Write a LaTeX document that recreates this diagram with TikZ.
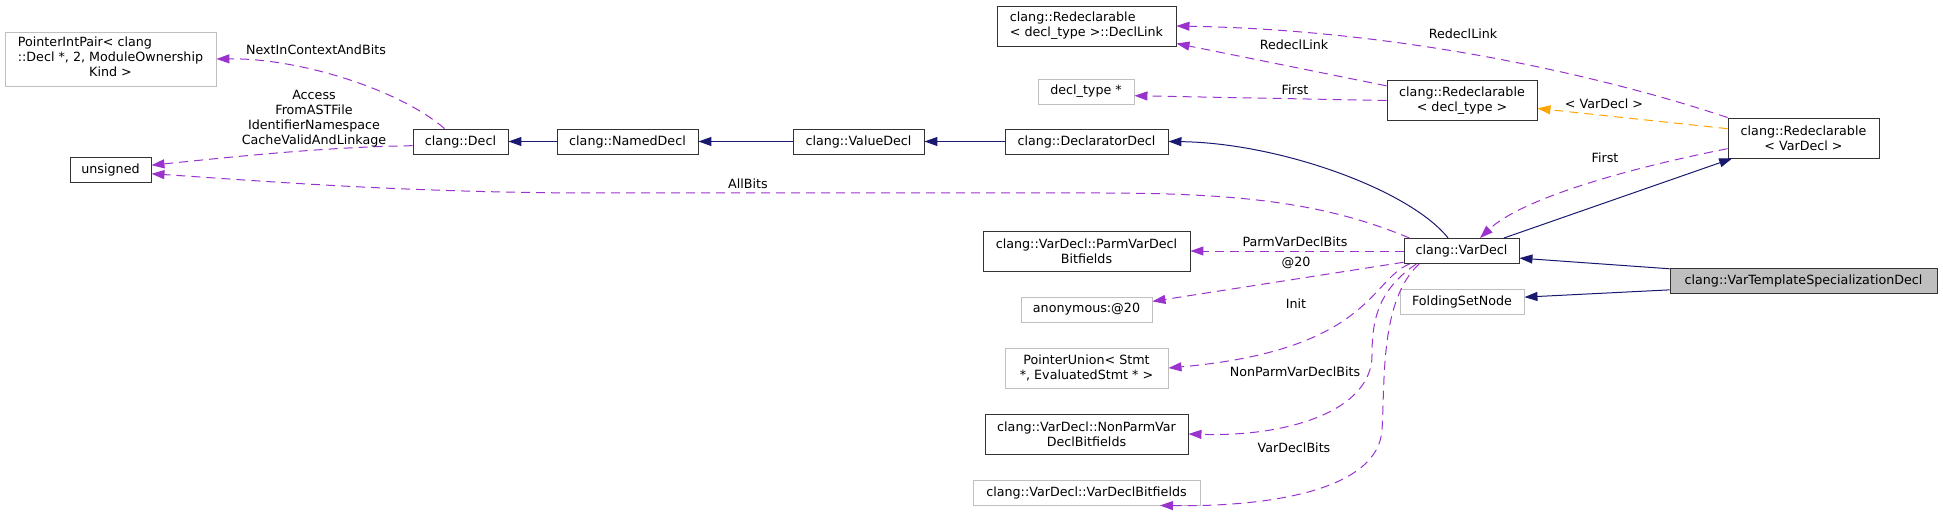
\documentclass[tikz,border=0pt]{standalone}
\usepackage{fontspec}
\setmainfont{DejaVu Sans}
\usepackage{tikz}
\usetikzlibrary{arrows.meta}
\definecolor{inhblue}{HTML}{191970}
\definecolor{memberpurple}{HTML}{9A32CD}
\definecolor{tmplorange}{HTML}{FFA500}
\definecolor{boxgray}{HTML}{BFBFBF}

\begin{document}
\begin{tikzpicture}[x=1pt, y=-1pt, font=\fontsize{12.7}{15}\selectfont,
  >={Triangle[length=13pt, width=9pt]},
  cls/.style={draw=black!80, line width=0.9pt, fill=white, minimum height=25pt,
              inner sep=0pt, align=center},
  ext/.style={cls, draw=boxgray},
  cur/.style={cls, fill=boxgray},
  inherit/.style={->, inhblue, line width=1pt},
  member/.style={->, memberpurple, line width=1pt, dash pattern=on 9pt off 6pt},
  tmpl/.style={->, tmplorange, line width=1pt, dash pattern=on 9pt off 6pt},
  lbl/.style={inner sep=0pt, align=center}]
  \useasboundingbox (0,0) rectangle (1943,513);

  \node[ext, minimum width=211pt, minimum height=54pt] (pip) at (110.5,59)
    {\begin{tabular}{@{}l@{}}PointerIntPair< clang\\::Decl *, 2, ModuleOwnership\\
     \multicolumn{1}{@{}c@{}}{Kind >}\end{tabular}};
  \node[cls, minimum width=81pt] (unsigned) at (110.5,169.5) {unsigned};
  \node[cls, minimum width=95pt] (decl) at (460.5,141.5) {clang::Decl};
  \node[cls, minimum width=141pt] (named) at (627.5,141.5) {clang::NamedDecl};
  \node[cls, minimum width=131pt] (value) at (858.5,141.5) {clang::ValueDecl};
  \node[cls, minimum width=163pt] (declarator) at (1086.5,141.5) {clang::DeclaratorDecl};
  \node[cls, minimum width=179pt, minimum height=40pt, align=left] (link) at (1086.5,26)
    {clang::Redeclarable\\< decl\_type >::DeclLink};
  \node[ext, minimum width=96pt] (declty) at (1086,91.5) {decl\_type *};
  \node[cls, minimum width=150pt, minimum height=40pt] (redt) at (1462,100.5)
    {clang::Redeclarable\\< decl\_type >};
  \node[cls, minimum width=151pt, minimum height=40pt] (redv) at (1803.5,138)
    {clang::Redeclarable\\< VarDecl >};
  \node[cls, minimum width=115pt] (vardecl) at (1461.5,251) {clang::VarDecl};
  \node[cur, minimum width=267pt] (vtsd) at (1803.5,280.5) {clang::VarTemplateSpecializationDecl};
  \node[ext, minimum width=124pt] (fsn) at (1462,301.5) {FoldingSetNode};
  \node[cls, minimum width=207pt, minimum height=40pt] (parm) at (1086.5,251)
    {clang::VarDecl::ParmVarDecl\\Bitfields};
  \node[ext, minimum width=131pt] (anon) at (1086.5,309.5) {anonymous:@20};
  \node[ext, minimum width=163pt, minimum height=40pt] (pu) at (1086.5,368)
    {PointerUnion< Stmt\\*, EvaluatedStmt * >};
  \node[cls, minimum width=203pt, minimum height=40pt] (nonparm) at (1086.5,434)
    {clang::VarDecl::NonParmVar\\DeclBitfields};
  \node[ext, minimum width=227pt] (vdb) at (1086.5,492.5) {clang::VarDecl::VarDeclBitfields};

  \draw[inherit] (named.west) -- (decl.east);
  \draw[inherit] (value.west) -- (named.east);
  \draw[inherit] (declarator.west) -- (value.east);
  \draw[inherit] (vardecl.136) .. controls (1410,190) and (1280,143) .. (declarator.east);
  \draw[inherit] (vardecl.17) -- (redv.196);
  \draw[inherit] (vtsd.175) -- (vardecl.-7);
  \draw[inherit] (vtsd.184) -- (fsn.4);

  \draw[member] (decl.141) .. controls (400,90) and (300,58) .. (pip.east);
  \draw[member] (decl.185) .. controls (330,147) and (250,155) .. (unsigned.6);
  \draw[member] (vardecl.166) .. controls (1330,205) and (1250,193) .. (1100,193)
    -- (600,193) .. controls (400,193) and (250,180) .. (unsigned.-6);
  \draw[member] (redv.north west) .. controls (1600,75) and (1400,30) .. (link.east);
  \draw[member] (redt.169) -- (link.-11);
  \draw[member] (redt.west) -- (declty.-5);
  \draw[tmpl] (redv.173) -- (redt.-6);
  \draw[member] (redv.188) .. controls (1620,170) and (1520,200) .. (vardecl.35);
  \draw[member] (vardecl.west) -- (parm.east);
  \draw[member] (vardecl.191) -- (anon.7);
  \draw[member] (vardecl.194) .. controls (1370,280) and (1370,350) .. (pu.east);
  \draw[member] (vardecl.196) .. controls (1378,290) and (1372,320) .. (1372,355)
    .. controls (1372,410) and (1290,437) .. (nonparm.east);
  \draw[member] (vardecl.197) .. controls (1380,300) and (1385,380) .. (1382,430)
    .. controls (1378,490) and (1270,507) .. (vdb.-10);

  \node[lbl] (lnext) at (316,50) {NextInContextAndBits};
  \node[lbl] (laccess) at (314,119) {Access\\FromASTFile\\IdentifierNamespace\\CacheValidAndLinkage};
  \node[lbl] (lall) at (748,184) {AllBits};
  \node[lbl] (llinka) at (1463,34) {RedeclLink};
  \node[lbl] (llinkb) at (1294,45) {RedeclLink};
  \node[lbl] (lfirsta) at (1295,90) {First};
  \node[lbl] (ltmpl) at (1604,104) {< VarDecl >};
  \node[lbl] (lfirstb) at (1605,158) {First};
  \node[lbl] (lparm) at (1295,242) {ParmVarDeclBits};
  \node[lbl] (lat) at (1296,263) {@20};
  \node[lbl] (linit) at (1296,304) {Init};
  \node[lbl] (lnonparm) at (1295,372) {NonParmVarDeclBits};
  \node[lbl] (lvdb) at (1294,448) {VarDeclBits};
\end{tikzpicture}
\end{document}
